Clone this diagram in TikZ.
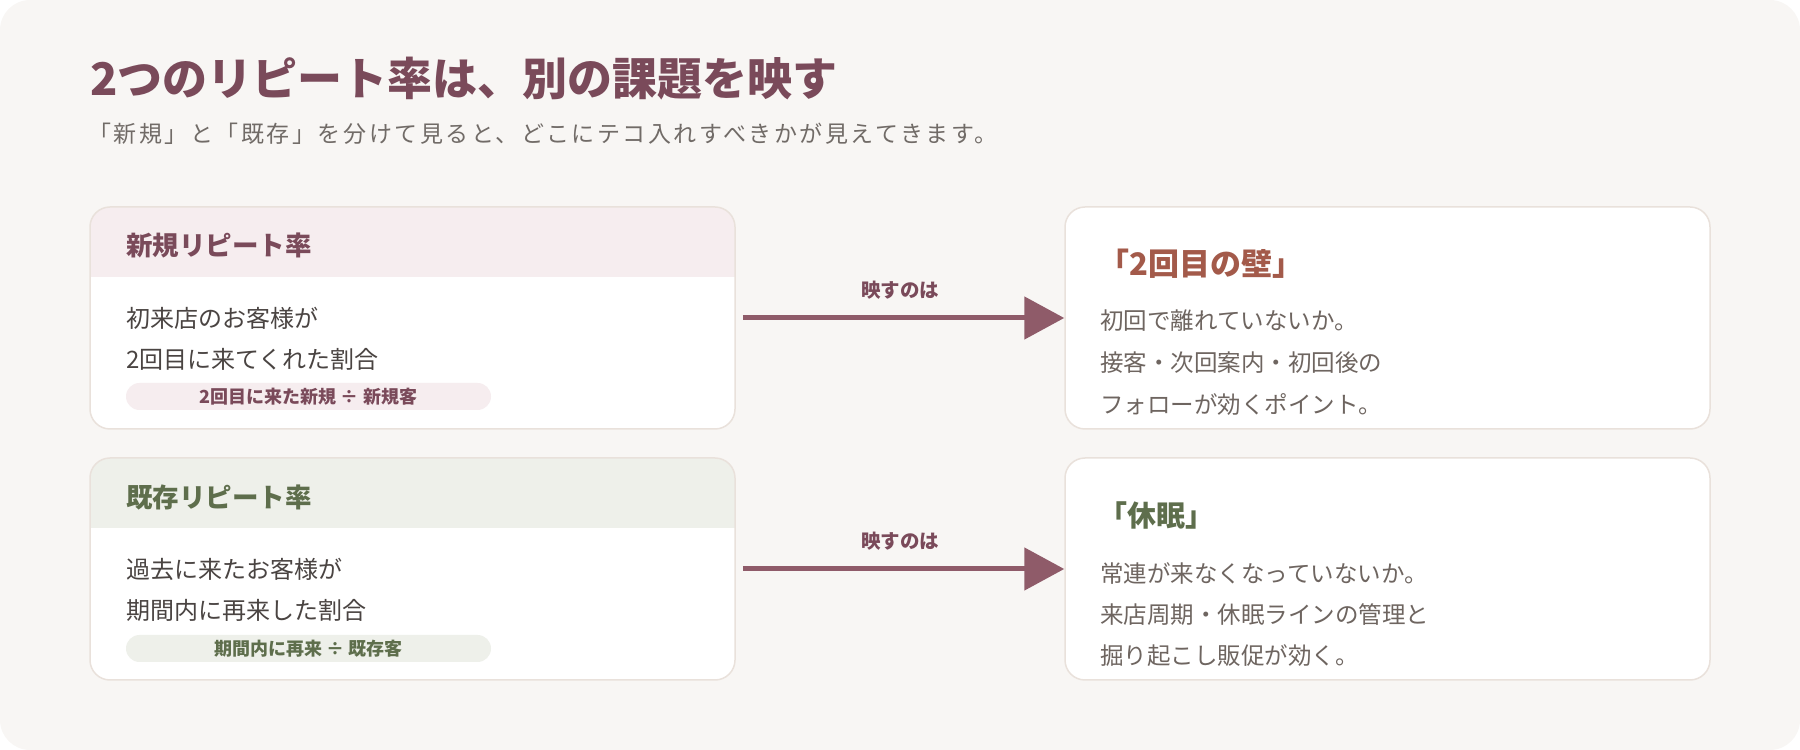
\documentclass[tikz,border=0pt]{standalone}
\usepackage{fontspec}
\setmainfont{Noto Sans CJK JP}
\usetikzlibrary{arrows.meta}
\usetikzlibrary{positioning}
\definecolor{pagebg}{HTML}{F8F6F4}
\definecolor{cardline}{HTML}{E9E1DB}
\definecolor{pinkhd}{HTML}{F6EDEF}
\definecolor{greenhd}{HTML}{EEF0EA}
\definecolor{plum}{HTML}{7A4A5A}
\definecolor{olive}{HTML}{5E6E4C}
\definecolor{arrowc}{HTML}{8F5B69}
\definecolor{bodyc}{HTML}{4A4442}
\definecolor{notec}{HTML}{6E6560}
\definecolor{subc}{HTML}{716B67}
\definecolor{wallc}{HTML}{A35A4A}

\begin{document}
\begin{tikzpicture}[x=1pt,y=1pt,
    card/.style={draw=cardline, line width=1.5pt, fill=white, rounded corners=20pt,
      minimum width=645pt, minimum height=222pt, inner sep=0pt},
    headcard/.style={card, path picture={\fill[#1, sharp corners] (path picture bounding box.north west)
      rectangle ([yshift=-70pt]path picture bounding box.north east);}},
    txt/.style={anchor=west, inner sep=0pt, align=left},
    pill/.style={rounded corners=13.5pt, minimum width=365pt, minimum height=27pt,
      inner sep=0pt, font=\fontsize{18}{20}\selectfont\bfseries},
    flow/.style={-{Triangle[length=40pt,width=42pt]}, line width=5pt, draw=arrowc, shorten <=7pt}]
    \useasboundingbox (0,0) rectangle (1800,750);
    \fill[pagebg, rounded corners=30pt] (0,0) rectangle (1800,750);

    \node[txt, text=plum, font=\fontsize{45}{52}\selectfont\bfseries] (title) at (90,671) {2つのリピート率は、別の課題を映す};
    \node[txt, text=subc, font=\fontsize{23}{26}\selectfont\addfontfeatures{LetterSpace=11}] (subtitle) at (88,616) {「新規」と「既存」を分けて見ると、どこにテコ入れすべきかが見えてきます。};

    \node[headcard=pinkhd] (newcard) at (412.5,432) {};
    \node[headcard=greenhd] (oldcard) at (412.5,181) {};
    \node[card] (wallcard) at (1387.5,432) {};
    \node[card] (sleepcard) at (1387.5,181) {};

    \node[txt, text=plum, font=\fontsize{26.5}{30}\selectfont\bfseries] (newhead) at (126,505) {新規リピート率};
    \node[txt, text=bodyc, font=\fontsize{24}{41}\selectfont] (newbody) at (126,411.5) {初来店のお客様が\\2回目に来てくれた割合};
    \node[pill, fill=pinkhd, text=plum] (newpill) at (308.5,353.5) {2回目に来た新規 ÷ 新規客};

    \node[txt, text=olive, font=\fontsize{26.5}{30}\selectfont\bfseries] (oldhead) at (126,253) {既存リピート率};
    \node[txt, text=bodyc, font=\fontsize{24}{41}\selectfont] (oldbody) at (126,160.5) {過去に来たお客様が\\期間内に再来した割合};
    \node[pill, fill=greenhd, text=olive] (oldpill) at (308.5,101.5) {期間内に再来 ÷ 既存客};

    \node[txt, text=wallc, font=\fontsize{31}{34}\selectfont\bfseries] (wallhead) at (1098,486) {「2回目の壁」};
    \node[txt, text=notec, font=\fontsize{23.5}{42}\selectfont] (wallbody) at (1100,387) {初回で離れていないか。\\接客・次回案内・初回後の\\フォローが効くポイント。};

    \node[txt, text=olive, font=\fontsize{29}{34}\selectfont\bfseries] (sleephead) at (1098,235) {「休眠」};
    \node[txt, text=notec, font=\fontsize{23.5}{41}\selectfont] (sleepbody) at (1100,135) {常連が来なくなっていないか。\\来店周期・休眠ラインの管理と\\掘り起こし販促が効く。};

    \draw[flow] (newcard.east) -- (wallcard.west)
      node[midway, above=16pt, inner sep=0pt, text=plum, font=\fontsize{19.5}{22}\selectfont\bfseries] (newlbl) {映すのは};
    \draw[flow] (oldcard.east) -- (sleepcard.west)
      node[midway, above=16pt, inner sep=0pt, text=plum, font=\fontsize{19.5}{22}\selectfont\bfseries] (oldlbl) {映すのは};
\end{tikzpicture}
\end{document}
